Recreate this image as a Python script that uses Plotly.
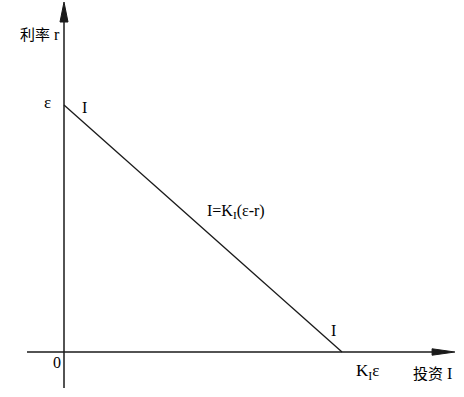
import plotly.graph_objects as go

# Data (normalised: epsilon = 1, K_I*epsilon = 1)
investment = [0.0, 1.0]   # I at r = epsilon, I at r = 0
rate = [1.0, 0.0]         # r values

line_color = "#1a1a1a"
serif = "Liberation Serif, DejaVu Serif, serif"

fig = go.Figure()
fig.add_trace(go.Scatter(x=investment, y=rate, mode="lines",
                         line=dict(color=line_color, width=1.3),
                         hoverinfo="skip", showlegend=False))

shapes = [
    dict(type="line", x0=0, x1=0, y0=-0.146, y1=1.34, xref="x", yref="y",
         line=dict(color=line_color, width=1.5)),
    dict(type="line", x0=-0.133, x1=1.33, y0=0, y1=0, xref="x", yref="y",
         line=dict(color=line_color, width=1.5)),
    dict(type="path", path="M -0.0144 1.336 L 0 1.417 L 0.0144 1.336 Z",
         xref="x", yref="y", fillcolor=line_color, line=dict(color=line_color, width=1)),
    dict(type="path", path="M 1.324 0.013 L 1.406 0 L 1.324 -0.013 Z",
         xref="x", yref="y", fillcolor=line_color, line=dict(color=line_color, width=1)),
]

def ann(x, y, text, size=16, font=serif):
    return dict(x=x, y=y, text=text, showarrow=False, xref="x", yref="y",
                font=dict(family=font, size=size, color="#000000"))

annotations = [
    ann(-0.086, 1.291, "<span style='font-family:Noto Sans CJK SC;font-size:15px'>利率</span> r", 16),
    ann(-0.0576, 1.012, "ε", 17),
    ann(0.0755, 0.988, "I", 16),
    ann(0.619, 0.567, "I=K<sub>I</sub>(ε-r)", 16),
    ann(0.968, 0.089, "I", 16),
    ann(-0.025, -0.0405, "0", 16),
    ann(1.09, -0.081, "K<sub>I</sub>ε", 17),
    ann(1.324, -0.081, "<span style='font-family:Noto Sans CJK SC;font-size:15px'>投资</span> I", 16),
]

fig.update_layout(
    width=464, height=397,
    margin=dict(l=0, r=0, t=0, b=0),
    paper_bgcolor="white", plot_bgcolor="white",
    xaxis=dict(range=[-0.2302, 1.4388], visible=False, fixedrange=True),
    yaxis=dict(range=[-0.1822, 1.4251], visible=False, fixedrange=True),
    shapes=shapes, annotations=annotations,
)

fig.write_html("out.html")
